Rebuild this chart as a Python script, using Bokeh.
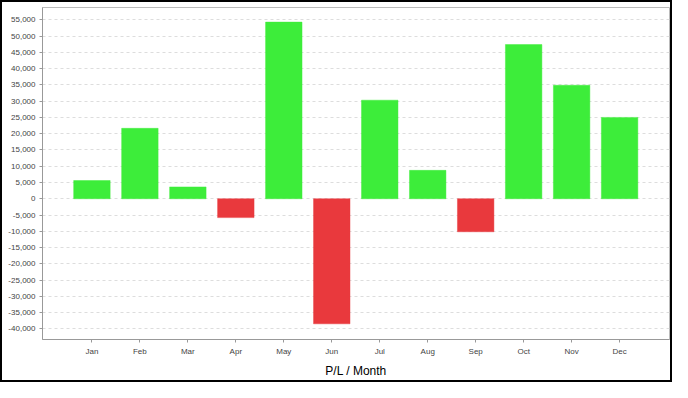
from bokeh.plotting import figure
from bokeh.models import FixedTicker, SingleIntervalTicker, NumeralTickFormatter, ColumnDataSource, Range1d
from bokeh.embed import file_html
from bokeh.resources import INLINE

months = ["Jan", "Feb", "Mar", "Apr", "May", "Jun", "Jul", "Aug", "Sep", "Oct", "Nov", "Dec"]
pnl = [5600, 21650, 3630, -5800, 54300, -38450, 30300, 8730, -10150, 47400, 34880, 25000]
x_title = "P/L / Month"

GREEN = "#3ded3a"
RED = "#e9393d"

xs = list(range(1, len(months) + 1))
colors = [GREEN if v >= 0 else RED for v in pnl]
src = ColumnDataSource(dict(x=xs, top=pnl, color=colors, month=months))

p = figure(width=672, height=382, output_backend="svg", toolbar_location=None,
           x_range=Range1d(-0.03, 13.04), y_range=Range1d(-43270, 58790),
           min_border_left=40, min_border_right=5, min_border_top=5, min_border_bottom=45,
           background_fill_color="white", border_fill_color="white")
p.styles = {"border": "2px solid black", "box-sizing": "border-box"}

p.vbar(x="x", top="top", bottom=0, width=0.76, source=src,
       fill_color="color", line_color="color", line_alpha=0.45, line_width=1)

p.outline_line_color = "#bbbbbb"
p.outline_line_width = 1

p.xgrid.visible = False
p.ygrid.grid_line_color = "#dddddd"
p.ygrid.grid_line_dash = "3 3"
p.ygrid.ticker = SingleIntervalTicker(interval=5000)

for ax in (p.xaxis[0], p.yaxis[0]):
    ax.axis_line_color = "#999999"
    ax.major_tick_line_color = "#999999"
    ax.major_tick_in = 0
    ax.major_tick_out = 3
    ax.minor_tick_line_color = None
    ax.major_label_text_font = "Liberation Sans"
    ax.major_label_text_font_size = "8px"
    ax.major_label_text_color = "#444444"
    ax.major_label_standoff = 4

p.yaxis.ticker = SingleIntervalTicker(interval=5000)
p.yaxis.formatter = NumeralTickFormatter(format="0,0")
p.yaxis.major_label_standoff = 3

p.xaxis.ticker = FixedTicker(ticks=xs)
p.xaxis.major_label_overrides = {x: m for x, m in zip(xs, months)}
p.xaxis.axis_label = x_title
p.xaxis.axis_label_text_font = "Liberation Sans"
p.xaxis.axis_label_text_font_size = "12px"
p.xaxis.axis_label_text_font_style = "normal"
p.xaxis.axis_label_text_color = "#000000"
p.xaxis.axis_label_standoff = 5

open("out.html", "w").write(file_html(p, INLINE))
